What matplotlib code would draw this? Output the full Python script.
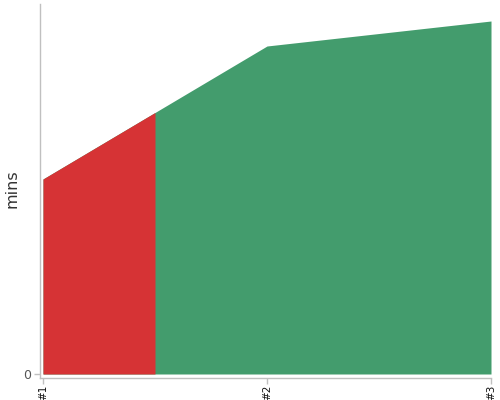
import numpy as np
import matplotlib
matplotlib.use("Agg")
import matplotlib.pyplot as plt

categories = ["#1", "#2", "#3"]
values = [19.5, 32.8, 35.3]
split_at = 0.5  # boundary between red and green regions (in category units)

red = "#d63335"
green = "#439c6d"
spine_col = "#c0c0c0"

fig = plt.figure(figsize=(5, 4), dpi=100)
ax = fig.add_axes([0.079, 0.05625, 0.903, 0.93375])

x = np.arange(len(categories))
y = np.array(values)
split_y = np.interp(split_at, x, y)

xr = np.array([x[0], split_at])
yr = np.array([y[0], split_y])

# green under the whole series, red drawn on top for the first part
ax.fill_between(x, 0, y, color=green, linewidth=0)
ax.fill_between(xr, 0, yr, color=red, linewidth=0)

ax.set_xlim(-0.0156, 2)
ax.set_ylim(-0.35, 37.0)
ax.set_xticks(x)
ax.set_xticklabels(categories, rotation=90, fontsize=7.5, color="#111111")
ax.set_yticks([0])
ax.set_yticklabels(["0"], fontsize=9, color="#555555")
ax.tick_params(axis="both", length=4, width=1, color=spine_col, pad=2)
ax.tick_params(axis="x", pad=1)
for s in ["top", "right"]:
    ax.spines[s].set_visible(False)
for s in ["left", "bottom"]:
    ax.spines[s].set_color(spine_col)
    ax.spines[s].set_linewidth(1)
ax.set_ylabel("mins", fontsize=11.5, color="#333333")
ax.yaxis.set_label_coords(-0.0445, 0.505)

fig.savefig("out.png", dpi=100)
